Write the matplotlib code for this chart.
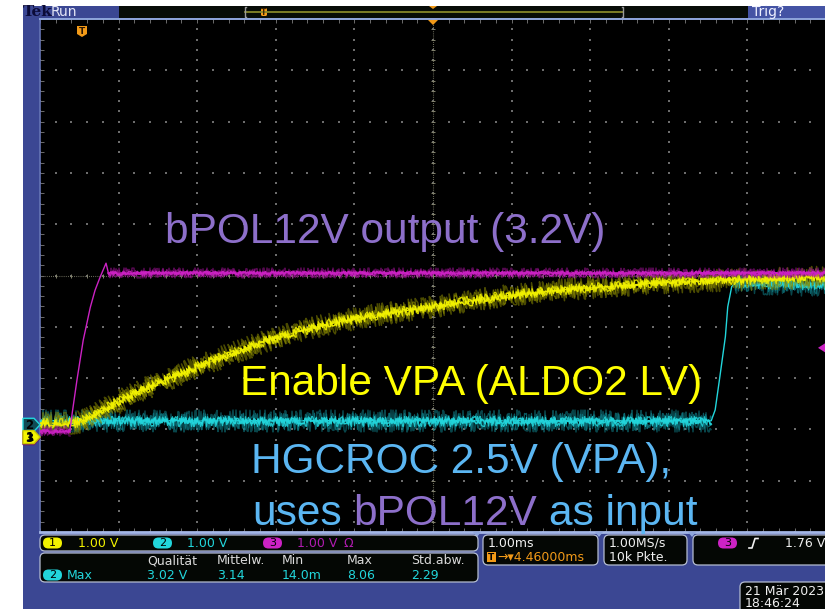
import numpy as np
import matplotlib
matplotlib.use("Agg")
import matplotlib.pyplot as plt
from matplotlib.patches import Rectangle, FancyBboxPatch, Polygon

# ---------------- acquisition settings ----------------
time_per_div_ms = 1.00
trigger_delay_ms = 4.46
trigger_level_v = 1.76
channel_names = ["1", "2", "3"]
volts_per_div = [1.00, 1.00, 1.00]
ground_div = [-3.15, -2.91, -3.17]      # vertical position of 0 V per channel

# ---------------- channel 1 : Enable VPA (ALDO2 LV) ----------------
ch1_t = [-0.54, -0.16, -0.03, 0.10, 0.31, 0.52, 0.73, 0.95, 1.15, 1.37,
         1.58, 1.79, 2.00, 2.30, 2.73, 3.15, 3.57, 4.00, 4.42, 4.84,
         5.27, 5.70, 6.11, 6.55, 6.97, 7.22, 7.86, 8.62, 9.46]
ch1_v = [0.27, 0.27, 0.29, 0.39, 0.56, 0.73, 0.90, 1.04, 1.17, 1.31,
         1.44, 1.56, 1.68, 1.86, 2.05, 2.21, 2.34, 2.44, 2.53, 2.63,
         2.73, 2.81, 2.87, 2.92, 2.96, 3.00, 3.04, 3.08, 3.12]

# ---------------- channel 2 : HGCROC 2.5V (VPA) ----------------
ch2_t = [-0.54, 8.00, 8.05, 8.11, 8.18, 8.21, 8.26, 8.30, 9.46]
ch2_v = [0.08, 0.08, 0.29, 0.94, 1.72, 2.30, 2.69, 2.77, 2.71]

# ---------------- channel 3 : bPOL12V output ----------------
ch3_t = [-0.54, -0.16, -0.13, -0.07, 0.01, 0.10, 0.16, 0.22, 0.30, 0.33, 9.46]
ch3_v = [0.14, 0.14, 0.49, 1.13, 1.91, 2.55, 2.88, 3.12, 3.41, 3.22, 3.22]

# ---------------- measurement readout ----------------
meas_headers = ["Qualität", "Mittelw.", "Min", "Max", "Std.abw."]
meas_values = ["3.02 V", "3.14", "14.0m", "8.06", "2.29"]
record_rate = "1.00MS/s"
record_length = "10k Pkte."
date_text = "21 Mär 2023"
time_text = "18:46:24"

W, H = 825, 609
FRAME = "#3b4793"
GRAT = "#6c6c6c"
YEL, CYA, MAG = "#f2f200", "#22d6dc", "#cc22c4"

fig = plt.figure(figsize=(W / 100, H / 100), dpi=100)
fig.patch.set_facecolor("white")


def pixel_axes(z):
    a = fig.add_axes([0, 0, 1, 1], zorder=z)
    a.set_xlim(0, W)
    a.set_ylim(H, 0)
    a.axis("off")
    a.patch.set_visible(False)
    return a


bg = pixel_axes(0)
bg.add_patch(Rectangle((23, 6), W - 23, H - 6, color=FRAME, lw=0))

# ---------------- oscilloscope screen ----------------
L, R, T, B = 40, 826, 19, 532
ax = fig.add_axes([L / W, (H - B) / H, (R - L) / W, (B - T) / H], zorder=1)
ax.set_facecolor("black")
centre = trigger_delay_ms
ax.set_xlim(centre - 5 * time_per_div_ms, centre + 5 * time_per_div_ms)
ax.set_ylim(-5, 5)

major_x = centre + time_per_div_ms * np.arange(-5, 6)
major_y = np.arange(-5, 6)
minor_x = centre + time_per_div_ms * np.arange(-5, 5.01, 0.2)
minor_y = np.arange(-5, 5.01, 0.2)

gx, gy = np.meshgrid(major_x, minor_y)
ax.scatter(gx.ravel(), gy.ravel(), s=0.7, marker="s", color=GRAT, lw=0, zorder=1)
hx, hy = np.meshgrid(minor_x, major_y)
ax.scatter(hx.ravel(), hy.ravel(), s=0.7, marker="s", color=GRAT, lw=0, zorder=1)
ax.axvline(centre, color="#82826e", lw=0.8, ls=(0, (0.7, 1.2)), zorder=1)
ax.axhline(0, color="#82826e", lw=0.8, ls=(0, (0.7, 1.2)), zorder=1)
ax.scatter(np.full_like(minor_y, centre), minor_y, marker="_", s=10,
           color="#82826e", lw=0.7, zorder=1)
ax.scatter(minor_x, np.zeros_like(minor_x), marker="|", s=10,
           color="#82826e", lw=0.7, zorder=1)

ax.set_xticks(minor_x)
ax.set_yticks(minor_y)
ax.tick_params(which="both", direction="in", length=3, width=0.7, color=GRAT,
               top=True, bottom=True, left=True, right=False,
               labelbottom=False, labelleft=False)
ax.spines["right"].set_visible(False)
ax.spines["top"].set_color("#8fa6dc")
ax.spines["top"].set_linewidth(1.4)
ax.spines["bottom"].set_color("#a3b6e6")
ax.spines["bottom"].set_linewidth(2.0)
ax.spines["left"].set_color("#6574b4")
ax.spines["left"].set_linewidth(1.2)


def trace(t, v, k, core, fringe, noisy, amp, z):
    t = np.asarray(t)
    y = np.asarray(v) / volts_per_div[k] + ground_div[k]
    ax.plot(t, y, color=core, lw=1.0, zorder=z)
    # persistence-style fuzz on the flat / slow parts of the trace
    layers = ((fringe, amp, 1.1, 0.55, 8),
              (fringe, amp * 0.75, 0.9, 0.7, 5),
              (core, amp * 0.45, 0.9, 0.85, 7),
              (core, amp * 0.25, 1.1, 0.95, 4))
    for sl in noisy:
        for col, sc, lw, al, rnd in layers:
            ln, = ax.plot(t[sl], y[sl], color=col, lw=lw, alpha=al, zorder=z)
            ln.set_sketch_params(scale=sc, length=1.1, randomness=rnd)


trace(ch2_t, ch2_v, 1, CYA, "#0f7e88", [slice(0, 2), slice(7, None)], 11, 3)
trace(ch1_t, ch1_v, 0, YEL, "#8a8a00", [slice(0, None)], 11, 4)
trace(ch3_t, ch3_v, 2, MAG, "#98108f", [slice(0, 2), slice(9, None)], 5, 5)

# ---------------- overlay: annotations, markers, readouts ----------------
ov = pixel_axes(2)
ov.add_patch(Rectangle((0, 0), 23, H, color="white", lw=0))
ov.add_patch(Rectangle((0, 0), W, 6, color="white", lw=0))

BIG = dict(family="Liberation Sans", fontsize=30.5, va="baseline", ha="left")
PURPLE, BLUE = "#8d6fca", "#5bb6f2"
ov.text(165, 243, "bPOL12V output (3.2V)", color=PURPLE, **BIG)
ov.text(240, 395, "Enable VPA (ALDO2 LV)", color="#ffff00", **BIG)
ov.text(251, 473, "HGCROC 2.5V (VPA),", color=BLUE, **BIG)
ov.text(252, 525, "uses", color=BLUE, **BIG)
ov.text(353, 525, "bPOL12V", color=PURPLE, **BIG)
ov.text(549, 525, "as input", color=BLUE, **BIG)

# top status bar
ov.add_patch(Rectangle((119, 6), 629, 12, color="#070c07", lw=0))
ov.plot([245, 623], [11.5, 11.5], color="#86862a", lw=1.3)
ov.plot([246, 245, 245, 246], [7, 7, 17, 17], color="#9a9a9a", lw=1)
ov.plot([622, 623, 623, 622], [7, 7, 17, 17], color="#9a9a9a", lw=1)
ov.add_patch(FancyBboxPatch((261, 8), 6, 8, boxstyle="round,pad=0,rounding_size=1.5",
                            fc="#f29a18", ec="none"))
ov.text(264, 12.3, "T", color="#3a2000", fontsize=5.5, ha="center", va="center",
        weight="bold")
ov.add_patch(Polygon([(429, 6), (437, 6), (433, 9)], color="#f29a18", lw=0))
ov.text(23, 12.5, "Tek", color="#0b0b38", fontsize=11, family="DejaVu Serif",
        weight="bold", va="center", ha="left")
ov.text(51, 12, "Run", color="#e4e6f6", fontsize=10, va="center", ha="left")
ov.add_patch(Rectangle((748, 6), 77, 12, color="#4453a4", lw=0))
ov.text(752, 12, "Trig?", color="#eef0ff", fontsize=10, va="center", ha="left")

# trigger position / delay markers
ov.add_patch(Polygon([(428, 20), (438, 20), (433, 25)], color="#f29a18", lw=0))
ov.add_patch(Polygon([(77, 26), (87, 26), (87, 34), (82, 37), (77, 34)],
                     color="#f29a18", lw=0))
ov.text(82, 31, "T", color="#2a1500", fontsize=6.5, ha="center", va="center",
        weight="bold")

# channel ground markers (left) and trigger level marker (right)
px_per_div = (B - T) / 10.0
y_mid = (B + T) / 2.0


def ground_px(k):
    return y_mid - ground_div[k] * px_per_div


def chan_marker(k, fc, ec, tc):
    yc = ground_px(k)
    ov.add_patch(Polygon([(23, yc - 6.5), (34, yc - 6.5), (40, yc), (34, yc + 6.5),
                          (23, yc + 6.5)], fc=fc, ec=ec, lw=1.0))
    ov.text(29.5, yc + 0.5, channel_names[k], color=tc, fontsize=8.5, weight="bold",
            ha="center", va="center")


chan_marker(2, MAG, "#70106a", "#000000")
chan_marker(1, "#0f4b55", CYA, "#000000")
chan_marker(0, "#f5f500", "#c8c800", "#000000")
lvl = ground_px(2) - trigger_level_v / volts_per_div[2] * px_per_div
ov.add_patch(Polygon([(818, lvl), (825, lvl - 4.5), (825, lvl + 4.5)], color=MAG, lw=0))

# small tabs under the screen edge
for xt in (477, 599, 692):
    ov.add_patch(Polygon([(xt - 4, 532), (xt + 4, 532), (xt, 537)],
                         color="#8fa6dc", lw=0))

# readout boxes
BOX_EC = "#b4bcd0"


def box(x0, y0, x1, y1):
    ov.add_patch(FancyBboxPatch((x0, y0), x1 - x0, y1 - y0,
                                boxstyle="round,pad=0,rounding_size=5",
                                fc="#040704", ec=BOX_EC, lw=0.9))


def pill(x0, yc, fc, label):
    ov.add_patch(FancyBboxPatch((x0, yc - 5.5), 19, 11,
                                boxstyle="round,pad=0,rounding_size=5.5",
                                fc=fc, ec="none"))
    ov.text(x0 + 9.5, yc + 0.5, label, color="black", fontsize=8,
            ha="center", va="center")


SMALL = dict(fontsize=9, va="center", ha="left", family="DejaVu Sans")
box(40, 535, 478, 551)
box(40, 553, 478, 582)
box(483, 535, 598, 565)
box(604, 535, 687, 565)
box(693, 535, 840, 565)
box(740, 582, 840, 615)

chan_cols = [YEL, CYA, "#b01cb0"]
for k, (xp, xt) in enumerate(((43, 78), (153, 187), (263, 297))):
    pill(xp, 543, chan_cols[k] if k < 2 else MAG, channel_names[k])
    ov.text(xt, 543.5, f"{volts_per_div[k]:.2f} V", color=chan_cols[k], **SMALL)
ov.text(344, 543.5, "Ω", color="#b01cb0", **SMALL)

meas_x = [147, 217, 282, 347, 411]
for xh, hd, vl in zip(meas_x, meas_headers, meas_values):
    ov.text(xh, 560.5, hd, color="#dadada", **SMALL)
    ov.text(xh, 575.5, vl, color=CYA, **SMALL)
pill(43, 575, CYA, channel_names[1])
ov.text(67, 575.5, "Max", color=CYA, **SMALL)

ov.text(488, 543.5, f"{time_per_div_ms:.2f}ms", color="#f0f0f0", **SMALL)
ov.add_patch(Rectangle((487, 552), 9, 10, fc="#f29a18", ec="none"))
ov.text(491.5, 557.3, "T", color="black", fontsize=6.5, ha="center", va="center",
        weight="bold")
ov.text(497, 557.5, f"→▾{trigger_delay_ms:.5f}ms", color="#f29a18", **SMALL)

ov.text(609, 543.5, record_rate, color="#f0f0f0", **SMALL)
ov.text(609, 557.5, record_length, color="#f0f0f0", **SMALL)

pill(718, 543, MAG, channel_names[2])
ov.plot([749, 752, 755, 758], [548, 548, 538.5, 538.5], color="#f0f0f0", lw=1.2)
ov.text(785, 543.5, f"{trigger_level_v:.2f} V", color="#f0f0f0", **SMALL)

ov.text(745, 591.5, date_text, color="#f0f0f0", **SMALL)
ov.text(745, 603.5, time_text, color="#f0f0f0", **SMALL)

fig.savefig("out.png", dpi=100, facecolor=fig.get_facecolor())
